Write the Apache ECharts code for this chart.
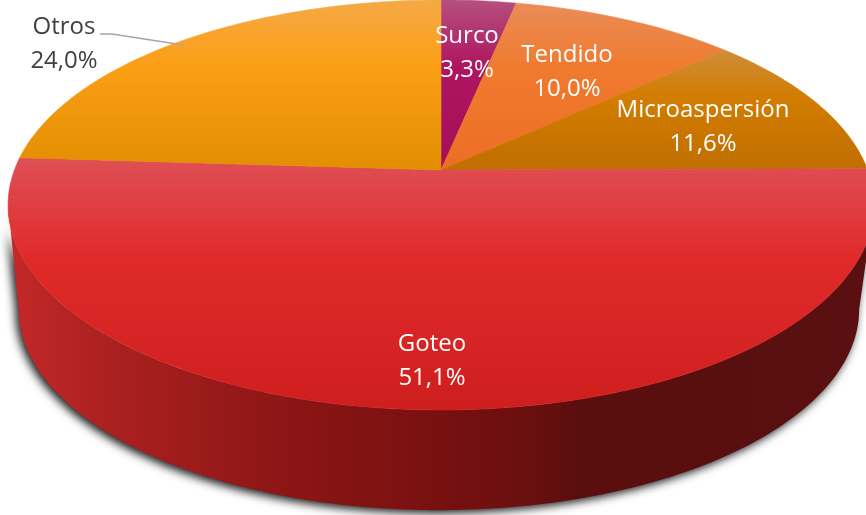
<!DOCTYPE html>
<html>
  <head>
    <meta charset="utf-8" />
    <script src="https://cdn.jsdelivr.net/npm/echarts@6.0.0/dist/echarts.min.js"></script>
    <style>
      html, body { margin: 0; padding: 0; background: #fff; }
    </style>
  </head>
  <body>
    <div id="main" style="width: 866px; height: 515px"></div>

    <script type="text/javascript">
      // chart data, clockwise from 12 o'clock
      const categories = ["Surco", "Tendido", "Microaspersión", "Goteo", "Otros"];
      const shares = [3.3, 10.0, 11.6, 51.1, 24.0];

      // slice colours, top / middle / bottom of each slice
      const topColors = [
        ["#b5507f", "#ae1560", "#a50f58"],
        ["#ea8c58", "#f07a2e", "#ec6e24"],
        ["#cf8c3a", "#d27c00", "#bf6e00"],
        ["#df5056", "#e02a2a", "#cf1e1e"],
        ["#f5a945", "#fb9e14", "#e28e00"],
      ];
      const sideStops = [
        [0, "#c42828"],
        [0.12, "#ab2020"],
        [0.33, "#8b1515"],
        [0.5, "#781010"],
        [0.6, "#6a0f0f"],
        [0.66, "#5a0e0e"],
        [1, "#5a1010"],
      ];

      // label centres, separate from the data
      const labelCenters = [
        [467, 53],
        [567, 72],
        [703, 127],
        [432, 361],
        [64, 44],
      ];
      const labelColors = ["#fff", "#fff", "#fff", "#fff", "#404040"];

      // tilted disc: a circle seen in perspective
      const persp = 0.1707;
      const topDisc = { cx: 441, cy: 170, a: 426.6, b: 199 };
      const bottomDisc = { cx: 439, cy: 275, a: 414, b: 195 };

      function project(disc, deg) {
        const t = (deg * Math.PI) / 180;
        const x = Math.sin(t);
        const y = -Math.cos(t);
        const d = 1 - persp * y;
        return [disc.cx + (disc.a * x) / d, disc.cy + (disc.b * y) / d];
      }

      function arc(disc, from, to) {
        const pts = [];
        const n = Math.max(2, Math.ceil(Math.abs(to - from)));
        for (let i = 0; i <= n; i++) pts.push(project(disc, from + ((to - from) * i) / n));
        return pts;
      }

      // angles where the rim turns from back to front
      const frontFrom = (Math.acos(-persp) * 180) / Math.PI;
      const frontTo = 360 - frontFrom;

      let running = 0;
      const sliceData = categories.map((name, i) => {
        const from = (running / 100) * 360;
        running += shares[i];
        return { name: name, value: [i, from, (running / 100) * 360, shares[i]] };
      });

      function renderSide(params, api) {
        const from = Math.max(api.value(1), frontFrom);
        const to = Math.min(api.value(2), frontTo);
        if (to <= from) return { type: "group", children: [] };
        const pts = arc(topDisc, from, to).concat(arc(bottomDisc, to, from));
        return {
          type: "polygon",
          shape: { points: pts },
          style: {
            fill: new echarts.graphic.LinearGradient(
              0, 0, 1, 0,
              sideStops.map((s) => ({ offset: s[0], color: s[1] }))
            ),
            shadowBlur: 10,
            shadowColor: "rgba(0,0,0,0.9)",
            shadowOffsetX: -3,
            shadowOffsetY: 3,
          },
        };
      }

      function renderTop(params, api) {
        const i = api.value(0);
        const pts = [[topDisc.cx, topDisc.cy]].concat(arc(topDisc, api.value(1), api.value(2)));
        const c = topColors[i];
        const fill = new echarts.graphic.LinearGradient(0, 0, 0, 1, [
          { offset: 0, color: c[0] },
          { offset: 0.4, color: c[1] },
          { offset: 1, color: c[2] },
        ]);
        // thin stroke in the same colour closes the seams between slices
        return {
          type: "polygon",
          shape: { points: pts },
          style: { fill: fill, stroke: fill, lineWidth: 0.6 },
        };
      }

      function renderLabel(params, api) {
        const i = api.value(0);
        const pct = api.value(3).toFixed(1).replace(".", ",");
        const children = [
          {
            type: "text",
            x: labelCenters[i][0],
            y: labelCenters[i][1],
            style: {
              text: categories[i] + "\n" + pct + "%",
              fill: labelColors[i],
              font: '24px "Open Sans"',
              lineHeight: 34,
              align: "center",
              verticalAlign: "middle",
            },
          },
        ];
        // only Otros sits outside the disc and has a leader line
        if (i === categories.length - 1) {
          const mid = project(topDisc, (api.value(1) + api.value(2)) / 2);
          children.unshift({
            type: "polyline",
            shape: { points: [[100, 34], [112, 34], [mid[0] + 2, mid[1] + 4]] },
            style: { stroke: "#a6a6a6", lineWidth: 1.5, fill: "none" },
          });
        }
        return { type: "group", children: children };
      }

      const myChart = echarts.init(document.getElementById("main"));

      const option = {
        animation: false,
        tooltip: { show: false },
        series: [
          { type: "custom", coordinateSystem: "none", z: 1, renderItem: renderSide, data: sliceData, silent: true },
          { type: "custom", coordinateSystem: "none", z: 2, renderItem: renderTop, data: sliceData, silent: true },
          { type: "custom", coordinateSystem: "none", z: 3, renderItem: renderLabel, data: sliceData, silent: true },
        ],
      };

      myChart.setOption(option);
    </script>
  </body>
</html>
